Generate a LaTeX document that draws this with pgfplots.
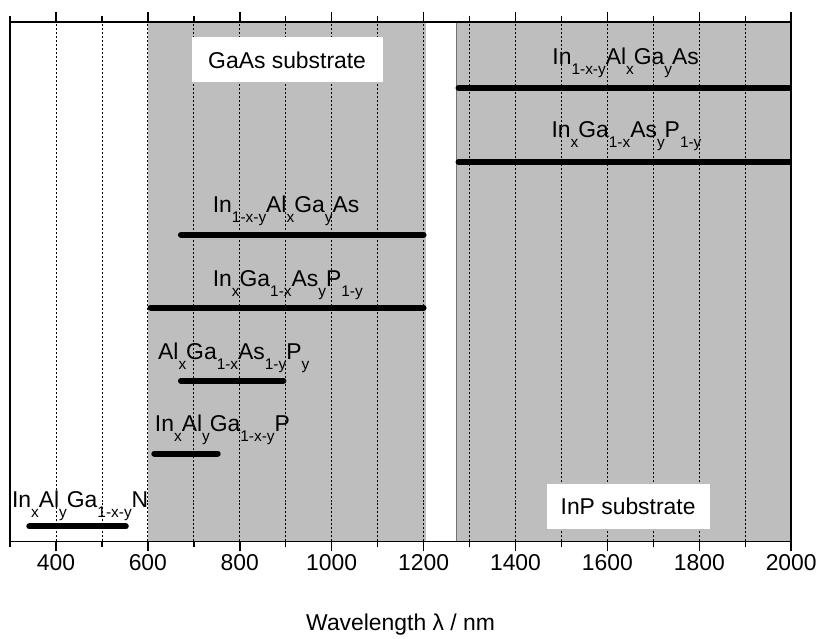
\documentclass[border=0pt]{standalone}
\usepackage{fontspec}
\setmainfont{Liberation Sans}
\usepackage{pgfplots}
\pgfplotsset{compat=1.18}
\definecolor{SubGrey}{RGB}{190,190,190}
\newcommand{\sub}[1]{\raisebox{-10bp}{\fontsize{15.5}{15}\selectfont #1}}
\newcommand{\lblfont}{\fontsize{23}{27}\selectfont}
\begin{document}
\begin{tikzpicture}
\begin{axis}[
    set layers=standard,
    scale only axis,
    width=782bp, height=520bp,
    xmin=300, xmax=2000, ymin=0, ymax=520,
    xtick={400,600,...,2000},
    minor xtick={300,500,...,1900},
    ytick=\empty,
    tick align=outside,
    major tick length=10bp,
    minor tick length=6bp,
    grid=both,
    major grid style={dash pattern=on 2bp off 2bp, black, line width=0.8bp},
    minor grid style={dash pattern=on 2bp off 2bp, black, line width=0.8bp},
    axis line style={line width=1.5bp},
    every tick/.style={black, line width=1.5bp},
    tick label style={font=\lblfont},
    xlabel={Wavelength λ / nm},
    label style={font=\lblfont},
    xlabel style={yshift=-36bp},
    /pgf/number format/assume math mode=true,
    /pgf/number format/1000 sep={},
]
% substrate regions
\addplot[fill=SubGrey, draw=none, on layer=axis background]
    coordinates {(600,0)(600,520)(1205,520)(1205,0)} -- cycle;
\addplot[fill=SubGrey, draw=SubGrey!60!black, line width=0.8bp, on layer=axis background]
    coordinates {(1271,0)(1271,520)(2000,520)(2000,0)} -- cycle;

% material ranges
\addplot[line width=6bp, line cap=round] coordinates {(1276,454)(2010,454)};
\addplot[line width=6bp, line cap=round] coordinates {(1276,380)(2010,380)};
\addplot[line width=6bp, line cap=round] coordinates {(672,307)(1200,307)};
\addplot[line width=6bp, line cap=round] coordinates {(606,234)(1200,234)};
\addplot[line width=6bp, line cap=round] coordinates {(672,161)(895,161)};
\addplot[line width=6bp, line cap=round] coordinates {(614,88)(752,88)};
\addplot[line width=6bp, line cap=round] coordinates {(342,15)(552,15)};

\begin{scope}[every node/.style={anchor=base west, inner sep=0pt, font=\lblfont}]
\node at (axis cs:1480,477) {In\sub{1-x-y}Al\sub{x}Ga\sub{y}As};
\node at (axis cs:1478,404) {In\sub{x}Ga\sub{1-x}As\sub{y}P\sub{1-y}};
\node at (axis cs:741,329) {In\sub{1-x-y}Al\sub{x}Ga\sub{y}As};
\node at (axis cs:741,255) {In\sub{x}Ga\sub{1-x}As\sub{y}P\sub{1-y}};
\node at (axis cs:622,182) {Al\sub{x}Ga\sub{1-x}As\sub{1-y}P\sub{y}};
\node at (axis cs:615,110) {In\sub{x}Al\sub{y}Ga\sub{1-x-y}P};
\node at (axis cs:304,34) {In\sub{x}Al\sub{y}Ga\sub{1-x-y}N};
\end{scope}

\node[fill=white, minimum width=191bp, minimum height=45bp, font=\lblfont]
    at (axis cs:903,482) {GaAs substrate};
\node[fill=white, minimum width=163bp, minimum height=46bp, font=\lblfont]
    at (axis cs:1645,35) {InP substrate};

\coordinate (bl) at (rel axis cs:0,0);
\coordinate (tr) at (rel axis cs:1,1);
\end{axis}
\path ([shift={(-10bp,-90bp)}]bl) rectangle ([shift={(28bp,22bp)}]tr);
\end{tikzpicture}
\end{document}
